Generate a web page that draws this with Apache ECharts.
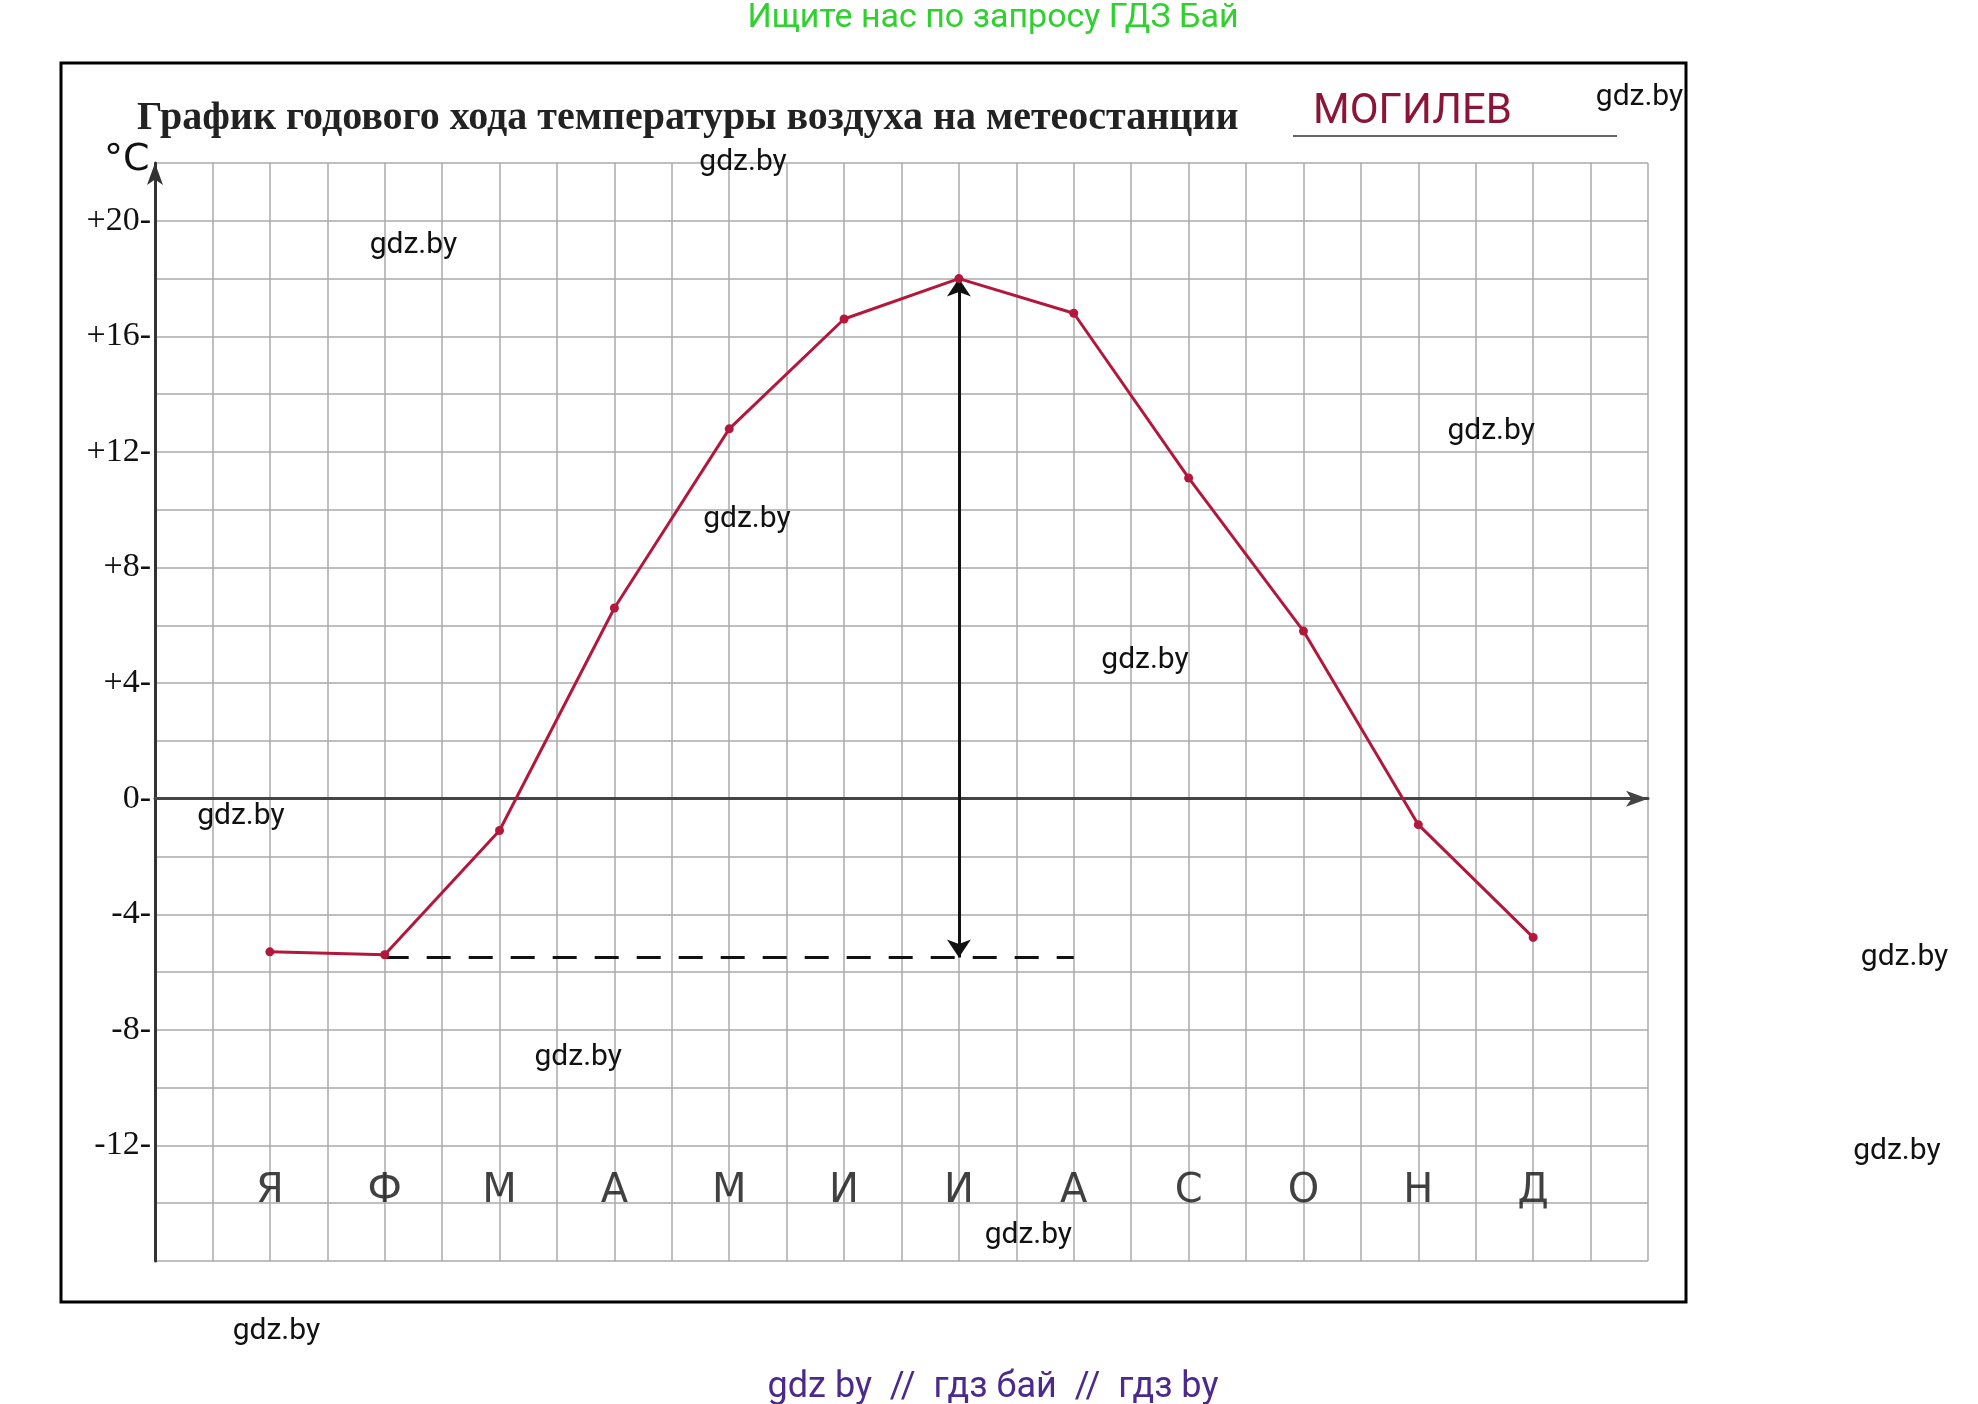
<!DOCTYPE html>
<html>
<head>
<meta charset="utf-8">
<script src="https://cdn.jsdelivr.net/npm/echarts@6/dist/echarts.min.js"></script>
<style>html,body{margin:0;background:#fff}#chart{width:1978px;height:1404px}</style>
</head>
<body>
<div id="chart"></div>
<script>
const months = ['Я', 'Ф', 'М', 'А', 'М', 'И', 'И', 'А', 'С', 'О', 'Н', 'Д']
const temps = [-5.3, -5.4, -1.1, 6.6, 12.8, 16.6, 18.0, 16.8, 11.1, 5.8, -0.9, -4.8]
const amplitudeLow = -5.5
const amplitudeHigh = 18.0
const marks = [
  [1293, 77], [586, 128], [326, 194], [1176, 340], [589, 410], [903, 521],
  [190, 644], [1502, 755], [456, 834], [1496, 908], [811, 974], [218, 1050],
]

const k = 1.268
const chart = echarts.init(document.getElementById('chart'))
const red = '#b3183c'

const graphics = [
  { type: 'rect', shape: { x: 61, y: 63, width: 1625, height: 1239 }, style: { fill: 'none', stroke: '#000', lineWidth: 3 }, z: 10 },
  { type: 'text', x: 993, y: 18, style: { text: 'Ищите нас по запросу ГДЗ Бай', fill: '#2fd12f', font: '34px Roboto', align: 'center', verticalAlign: 'middle' } },
  { type: 'text', x: 993, y: 1388, style: { text: 'gdz by  //  гдз бай  //  гдз by', fill: '#4b2a8c', font: '36px Roboto', align: 'center', verticalAlign: 'middle' } },
  { type: 'text', x: 137, y: 119, style: { text: 'График годового хода температуры воздуха на метеостанции', fill: '#222', font: 'bold 40px "Liberation Serif"', verticalAlign: 'middle' } },
  { type: 'text', x: 1313, y: 112, style: { text: 'МОГИЛЕВ', fill: '#8b1538', font: '42px Roboto', verticalAlign: 'middle' } },
  { type: 'line', shape: { x1: 1293, y1: 136, x2: 1617, y2: 136 }, style: { stroke: '#333', lineWidth: 1.5 } },
  { type: 'text', x: 104, y: 160, style: { text: '°C', fill: '#111', font: '38px "DejaVu Sans"', verticalAlign: 'middle' } },
]
marks.forEach(([x, y]) => {
  graphics.push({ type: 'text', x: x * k, y: y * k, z: 20, style: { text: 'gdz.by', fill: '#111', font: '30px Roboto', align: 'center', verticalAlign: 'middle' } })
})

chart.setOption({
  animation: false,
  grid: { left: 155, right: 330, top: 163, bottom: 143 },
  xAxis: {
    type: 'value', min: -1, max: 12, interval: 0.5,
    axisLine: { onZero: true, lineStyle: { color: '#444', width: 3 }, symbol: ['none', 'arrow'], symbolSize: [12, 22] },
    axisTick: { show: false }, axisLabel: { show: false },
    splitLine: { lineStyle: { color: '#aaa', width: 1.5 } },
  },
  yAxis: {
    type: 'value', min: -16, max: 22, interval: 2,
    axisLine: { show: true, onZero: false, lineStyle: { color: '#333', width: 3 }, symbol: ['none', 'arrow'], symbolSize: [12, 22] },
    axisTick: { show: false },
    axisLabel: {
      color: '#111', fontSize: 34, fontFamily: 'Liberation Serif', margin: 4,
      formatter: v => (v % 4 !== 0 || v > 20 || v < -12) ? '' : (v > 0 ? '+' + v : String(v)) + '-',
    },
    splitLine: { lineStyle: { color: '#aaa', width: 1.5 } },
  },
  graphic: graphics,
  series: [
    {
      type: 'line', data: temps.map((t, i) => [i, t]),
      lineStyle: { color: red, width: 3 }, itemStyle: { color: red },
      symbol: 'circle', symbolSize: 9, z: 5,
      markLine: {
        silent: true, symbol: 'none', label: { show: false },
        data: [
          [{ coord: [1, amplitudeLow], lineStyle: { color: '#111', width: 3, type: [24, 18] } }, { coord: [7, amplitudeLow] }],
          [{ coord: [6, amplitudeLow], symbol: 'arrow', symbolSize: 18, lineStyle: { color: '#111', width: 3, type: 'solid' } }, { coord: [6, amplitudeHigh], symbol: 'arrow', symbolSize: 18 }],
        ],
      },
    },
    {
      type: 'scatter', symbolSize: 0, data: months.map((m, i) => [i, -13.6, m]),
      label: { show: true, formatter: p => p.data[2], color: '#111', fontSize: 40, fontFamily: 'DejaVu Sans' },
    },
  ],
})
</script>
</body>
</html>
